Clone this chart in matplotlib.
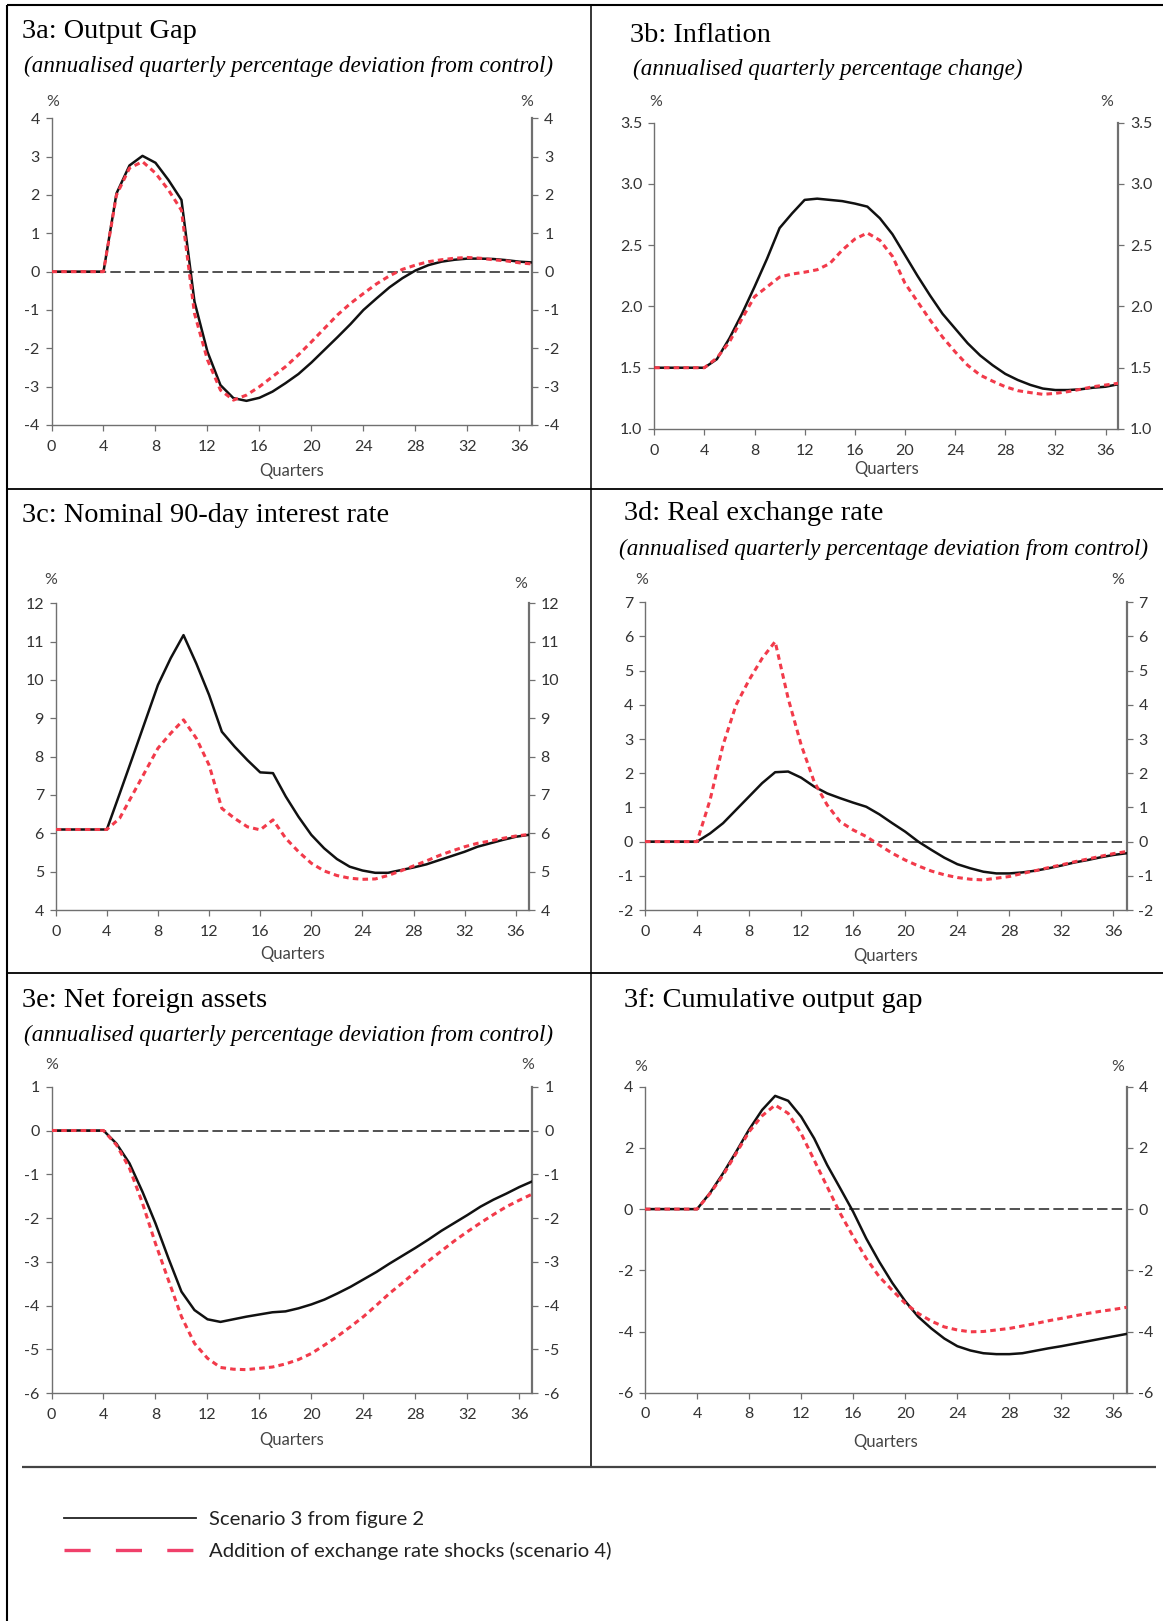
import matplotlib
matplotlib.use("Agg")
import matplotlib.pyplot as plt
from matplotlib.lines import Line2D
import numpy as np

plt.rcParams["axes.unicode_minus"] = False
plt.rcParams["lines.scale_dashes"] = False
plt.rcParams["font.family"] = ["Lato", "DejaVu Sans"]

W, H = 1165, 1621
quarters = list(range(38))

# ---------------- data ----------------
gap_s3 = [0, 0, 0, 0, 0, 2.04, 2.77, 3.02, 2.84, 2.39, 1.87, -0.78, -2.09, -2.96,
          -3.30, -3.37, -3.29, -3.13, -2.91, -2.67, -2.37, -2.04, -1.71, -1.37, -1.00,
          -0.70, -0.41, -0.17, 0.03, 0.17, 0.26, 0.31, 0.34, 0.34, 0.33, 0.30, 0.26, 0.24]
gap_s4 = [0, 0, 0, 0, 0, 2.00, 2.70, 2.87, 2.57, 2.13, 1.60, -1.09, -2.30, -3.09,
          -3.35, -3.22, -3.00, -2.74, -2.48, -2.17, -1.83, -1.48, -1.13, -0.83, -0.57,
          -0.32, -0.11, 0.06, 0.17, 0.26, 0.31, 0.35, 0.37, 0.35, 0.31, 0.28, 0.23, 0.20]

infl_s3 = [1.5, 1.5, 1.5, 1.5, 1.5, 1.57, 1.74, 1.94, 2.16, 2.39, 2.64, 2.76, 2.87, 2.88,
           2.87, 2.86, 2.84, 2.815, 2.72, 2.59, 2.42, 2.25, 2.09, 1.94, 1.82, 1.70, 1.60,
           1.52, 1.45, 1.40, 1.36, 1.33, 1.318, 1.318, 1.324, 1.337, 1.345, 1.365]
infl_s4 = [1.5, 1.5, 1.5, 1.5, 1.5, 1.58, 1.71, 1.90, 2.08, 2.16, 2.24, 2.265, 2.28, 2.30,
           2.35, 2.46, 2.55, 2.60, 2.54, 2.41, 2.19, 2.04, 1.89, 1.75, 1.63, 1.52, 1.44,
           1.39, 1.345, 1.313, 1.297, 1.283, 1.291, 1.305, 1.324, 1.345, 1.359, 1.373]

rate_s3 = [6.1, 6.1, 6.1, 6.1, 6.1, 7.03, 7.97, 8.92, 9.87, 10.57, 11.17, 10.43, 9.61,
           8.65, 8.26, 7.91, 7.59, 7.57, 6.96, 6.43, 5.96, 5.61, 5.33, 5.13, 5.03, 4.97,
           4.97, 5.04, 5.11, 5.19, 5.30, 5.41, 5.52, 5.65, 5.74, 5.83, 5.91, 5.96]
rate_s4 = [6.1, 6.1, 6.1, 6.1, 6.1, 6.39, 7.0, 7.61, 8.22, 8.61, 8.96, 8.48, 7.78, 6.65,
           6.39, 6.17, 6.09, 6.35, 5.87, 5.52, 5.22, 5.02, 4.90, 4.83, 4.80, 4.81, 4.90,
           5.02, 5.15, 5.28, 5.42, 5.54, 5.65, 5.74, 5.80, 5.87, 5.93, 5.97]

rer_s3 = [0, 0, 0, 0, 0, 0.24, 0.54, 0.93, 1.32, 1.71, 2.03, 2.05, 1.87, 1.61, 1.41,
          1.27, 1.14, 1.02, 0.80, 0.54, 0.29, 0.0, -0.24, -0.47, -0.66, -0.78, -0.88,
          -0.93, -0.93, -0.90, -0.85, -0.78, -0.70, -0.61, -0.54, -0.46, -0.39, -0.34]
rer_s4 = [0, 0, 0, 0, 0, 1.22, 2.83, 4.0, 4.73, 5.36, 5.85, 4.19, 2.83, 1.75, 1.07,
          0.58, 0.34, 0.15, -0.10, -0.34, -0.54, -0.71, -0.86, -0.97, -1.05, -1.10,
          -1.12, -1.07, -1.02, -0.93, -0.85, -0.76, -0.68, -0.59, -0.51, -0.43, -0.35, -0.29]

nfa_s3 = [0, 0, 0, 0, 0, -0.30, -0.75, -1.40, -2.12, -2.92, -3.68, -4.10, -4.31, -4.37,
          -4.31, -4.25, -4.20, -4.15, -4.13, -4.06, -3.97, -3.86, -3.72, -3.57, -3.40,
          -3.23, -3.04, -2.86, -2.68, -2.49, -2.29, -2.11, -1.93, -1.74, -1.58, -1.44,
          -1.29, -1.16]
nfa_s4 = [0, 0, 0, 0, 0, -0.33, -0.86, -1.66, -2.58, -3.42, -4.25, -4.86, -5.20, -5.41,
          -5.45, -5.46, -5.43, -5.40, -5.33, -5.23, -5.09, -4.90, -4.70, -4.48, -4.25,
          -3.99, -3.72, -3.48, -3.23, -2.98, -2.75, -2.52, -2.31, -2.11, -1.92, -1.74,
          -1.59, -1.45]

cum_s3 = [0, 0, 0, 0, 0, 0.53, 1.17, 1.87, 2.60, 3.24, 3.70, 3.54, 3.02, 2.31, 1.44,
          0.68, -0.09, -0.96, -1.72, -2.41, -3.01, -3.52, -3.90, -4.23, -4.48, -4.62,
          -4.71, -4.74, -4.74, -4.71, -4.63, -4.55, -4.48, -4.40, -4.32, -4.24, -4.16, -4.08]
cum_s4 = [0, 0, 0, 0, 0, 0.51, 1.11, 1.82, 2.53, 3.05, 3.40, 3.13, 2.47, 1.60, 0.73,
          -0.14, -0.90, -1.61, -2.21, -2.65, -3.08, -3.41, -3.66, -3.85, -3.95, -4.01,
          -4.00, -3.95, -3.90, -3.82, -3.74, -3.65, -3.57, -3.49, -3.41, -3.34, -3.28, -3.21]

titles = ["3a: Output Gap", "3b: Inflation", "3c: Nominal 90-day interest rate",
          "3d: Real exchange rate", "3e: Net foreign assets", "3f: Cumulative output gap"]
subtitles = ["(annualised quarterly percentage deviation from control)",
             "(annualised quarterly percentage change)",
             None,
             "(annualised quarterly percentage deviation from control)",
             "(annualised quarterly percentage deviation from control)",
             None]
x_ticks = [0, 4, 8, 12, 16, 20, 24, 28, 32, 36]
y_ticks = [[-4, -3, -2, -1, 0, 1, 2, 3, 4],
           [1.0, 1.5, 2.0, 2.5, 3.0, 3.5],
           [4, 5, 6, 7, 8, 9, 10, 11, 12],
           [-2, -1, 0, 1, 2, 3, 4, 5, 6, 7],
           [-6, -5, -4, -3, -2, -1, 0, 1],
           [-6, -4, -2, 0, 2, 4]]
y_fmt = ["{:.0f}", "{:.1f}", "{:.0f}", "{:.0f}", "{:.0f}", "{:.0f}"]
zero_line = [True, False, False, True, True, True]
series_s3 = [gap_s3, infl_s3, rate_s3, rer_s3, nfa_s3, cum_s3]
series_s4 = [gap_s4, infl_s4, rate_s4, rer_s4, nfa_s4, cum_s4]
legend_labels = ["Scenario 3 from figure 2", "Addition of exchange rate shocks (scenario 4)"]

# ---------------- layout (pixels) ----------------
axes_px = [(51.5, 532.4, 118.3, 425.0), (654.2, 1118.1, 122.7, 429.0),
           (55.7, 528.6, 603.3, 910.0), (645.0, 1126.5, 602.3, 910.0),
           (51.5, 532.4, 1086.7, 1393.3), (645.0, 1126.5, 1086.7, 1392.7)]
title_px = [(22, 38), (630.3, 41.5), (22, 521.5), (623.7, 520), (22, 1006.5), (623.7, 1006.5)]
sub_px = [(24.5, 72), (633.3, 75), None, (618.6, 555), (24.5, 1040.5), None]
pct_px = [((52.7, 101.7), (526.7, 101.7)), ((655.3, 101.7), (1107, 101.7)),
          ((50.8, 580), (521, 584.3)), ((642, 580), (1118, 580)),
          ((52, 1065), (527.5, 1065)), ((640.6, 1066.7), (1117.3, 1066.7))]
xlabelpad = [6.5, 2.5, 5.5, 7, 7.5, 9.5]

RED = "#f23a4a"
TICKC = "#333333"
SPINEC = "#707070"
TFS = 11.5

fig = plt.figure(figsize=(W / 100, H / 100), dpi=100)
fig.patch.set_facecolor("white")


def fx(px):
    return px / W


def fy(py):
    return 1 - py / H


for i in range(6):
    l, r, t, b = axes_px[i]
    ax = fig.add_axes([fx(l), fy(b), fx(r) - fx(l), fy(t) - fy(b)])
    yt = y_ticks[i]
    ax.set_xlim(0, 37)
    ax.set_ylim(yt[0], yt[-1])
    if zero_line[i]:
        ax.axhline(0, color="#222222", lw=1.1, dashes=(7.5, 3.0), zorder=1)
    ax.plot(quarters, series_s3[i], color="#111111", lw=1.8, zorder=3)
    ax.plot(quarters, series_s4[i], color=RED, lw=2.2, dashes=(4.0, 3.0), zorder=4)

    ax.set_xticks(x_ticks)
    ax.set_xticklabels([str(v) for v in x_ticks])
    ax.set_yticks(yt)
    ax.set_yticklabels([y_fmt[i].format(v) for v in yt])
    ax.spines["top"].set_visible(False)
    for s in ("left", "bottom"):
        ax.spines[s].set_color(SPINEC)
        ax.spines[s].set_linewidth(1.0)
    ax.spines["right"].set_color(SPINEC)
    ax.spines["right"].set_linewidth(1.6)
    ax.tick_params(axis="y", which="both", direction="out", length=4.5, width=0.9,
                   color=SPINEC, labelsize=TFS, labelcolor=TICKC, pad=4,
                   left=True, right=True, labelleft=True, labelright=True)
    ax.tick_params(axis="x", direction="out", length=4.5, width=0.9, color=SPINEC,
                   labelsize=TFS, labelcolor=TICKC, pad=6)
    ax.set_xlabel("Quarters", fontsize=12, color="#444444", labelpad=xlabelpad[i])

    tx, ty = title_px[i]
    fig.text(fx(tx), fy(ty), titles[i], family=["Liberation Serif", "DejaVu Serif"],
             fontsize=20.4, va="baseline", ha="left", color="black")
    if subtitles[i] is not None:
        sx, sy = sub_px[i]
        fig.text(fx(sx), fy(sy), subtitles[i], family=["Liberation Serif", "DejaVu Serif"],
                 style="italic", fontsize=16.7, va="baseline", ha="left", color="black")
    for (px, py) in pct_px[i]:
        fig.text(fx(px), fy(py), "%", fontsize=TFS, color="#444444",
                 ha="center", va="center")

# ---------------- frame lines ----------------
def fline(x0, y0, x1, y1, lw=1.5, color="black"):
    fig.add_artist(Line2D([fx(x0), fx(x1)], [fy(y0), fy(y1)], lw=lw, color=color,
                          transform=fig.transFigure, solid_capstyle="butt"))


fline(7, 5, 7, H, lw=1.5)
fline(7, 5, 1163, 5, lw=1.5)
fline(591, 5, 591, 1466.5, lw=1.1)
fline(7, 489, 1163, 489, lw=1.3)
fline(7, 973, 1163, 973, lw=1.3)
fline(22, 1466.5, 1156, 1466.5, lw=1.6, color="#444444")

# ---------------- legend ----------------
handles = [Line2D([], [], color="#222222", lw=1.3),
           Line2D([], [], color="#f0406a", lw=2.4, dashes=(18.8, 18.2))]
fig.legend(handles, legend_labels, loc="upper left",
           bbox_to_anchor=(fx(64), fy(1511)), frameon=False, fontsize=14.6,
           handlelength=6.5, handletextpad=0.65, labelspacing=0.67, borderpad=0,
           borderaxespad=0, labelcolor="#222222")

fig.savefig("out.png", dpi=100, facecolor="white")
